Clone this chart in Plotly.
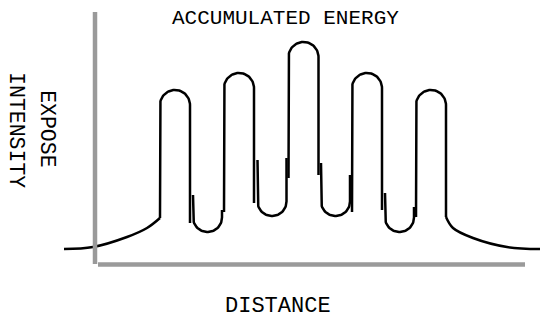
import numpy as np
import plotly.graph_objects as go

# ---- data (distance units, intensity units; origin at axes corner) ----
peak_center = [80, 144, 208.5, 272, 336]
peak_radius = [15, 15, 15, 15, 15]
peak_top = [174, 191, 222, 191, 174]
peak_left_leg_end = [46, 52, 86, 52, 47]
peak_right_leg_end = [41, 61, 89, 54, 47]

valley_center = [112.5, 177, 240.5, 304.5]
valley_radius = [14.5, 14.5, 14.5, 14.5]
valley_bottom = [32, 48, 48, 32]
valley_left_leg_top = [69, 104, 101, 71]
valley_right_leg_top = [54, 106, 89, 57]

left_tail_x = [-31, -2, 32, 52, 65]
left_tail_y = [15, 17, 27, 36, 46]
right_tail_x = [351, 358, 378, 412, 445]
right_tail_y = [47, 36, 26, 17, 15]

title_text = "ACCUMULATED ENERGY"
ylabel_lines = ["EXPOSE", "INTENSITY"]
xlabel_text = "DISTANCE"

LINE = dict(color="black", width=2.5)
FONT = "Liberation Mono, DejaVu Sans Mono, monospace"

fig = go.Figure()

def add(xs, ys, shape="linear"):
    fig.add_trace(go.Scatter(x=xs, y=ys, mode="lines", line=dict(**LINE, shape=shape),
                             hoverinfo="skip", showlegend=False))

# peaks (inverted U)
for c, r, t, lb, rb in zip(peak_center, peak_radius, peak_top, peak_left_leg_end, peak_right_leg_end):
    th = np.linspace(np.pi, 0, 40)
    xs = [c - r] + list(c + r * np.cos(th)) + [c + r]
    ys = [lb] + list(t - r + r * np.sin(th)) + [rb]
    add(xs, ys)

# valleys (U)
for c, r, b, lt, rt in zip(valley_center, valley_radius, valley_bottom, valley_left_leg_top, valley_right_leg_top):
    th = np.linspace(np.pi, 2 * np.pi, 40)
    xs = [c - r] + list(c + r * np.cos(th)) + [c + r]
    ys = [lt] + list(b + r + r * np.sin(th)) + [rt]
    add(xs, ys)

# tails
add(left_tail_x, left_tail_y, "spline")
add(right_tail_x, right_tail_y, "spline")

GRAY = "#9a9a9a"
fig.add_shape(type="line", x0=0, x1=0, y0=0, y1=252, xref="x", yref="y",
              line=dict(color=GRAY, width=4.5))
fig.add_shape(type="line", x0=3, x1=430, y0=-0.5, y1=-0.5, xref="x", yref="y",
              line=dict(color=GRAY, width=4.5))

fig.add_annotation(text=title_text, x=0.527, y=0.942, xref="paper", yref="paper",
                   showarrow=False, xanchor="center", yanchor="middle",
                   font=dict(family=FONT, size=21, color="black"))
fig.add_annotation(text=ylabel_lines[0], x=0.0869, y=0.602, xref="paper", yref="paper",
                   showarrow=False, xanchor="center", yanchor="middle", textangle=90,
                   font=dict(family=FONT, size=21.5, color="black"))
fig.add_annotation(text=ylabel_lines[1], x=0.0296, y=0.596, xref="paper", yref="paper",
                   showarrow=False, xanchor="center", yanchor="middle", textangle=90,
                   font=dict(family=FONT, size=21.5, color="black"))
fig.add_annotation(text=xlabel_text, x=0.514, y=0.047, xref="paper", yref="paper",
                   showarrow=False, xanchor="center", yanchor="middle",
                   font=dict(family=FONT, size=22, color="black"))

fig.update_layout(
    width=541, height=322,
    margin=dict(l=0, r=0, t=0, b=0),
    paper_bgcolor="white", plot_bgcolor="white",
    xaxis=dict(range=[-95, 446], visible=False, fixedrange=True),
    yaxis=dict(range=[-58, 264], visible=False, fixedrange=True),
)

fig.write_html("out.html", config={"displayModeBar": False},
               post_script="document.body.style.margin='0';document.body.style.overflow='hidden';")
